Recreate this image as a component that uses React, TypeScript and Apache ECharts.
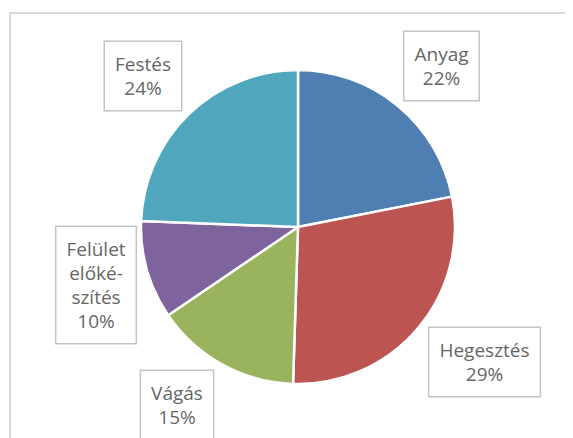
import React, { useEffect, useRef } from "react";
import * as echarts from "echarts";

const categories = ["Anyag", "Hegesztés", "Vágás", "Felület előkészítés", "Festés"];
const labelTexts = ["Anyag", "Hegesztés", "Vágás", "Felület\nelőké-\nszítés", "Festés"];
const values = [21.9, 28.6, 15.0, 10.1, 24.4];
const colors = ["#4F7EB3", "#BC5451", "#9AB45D", "#7E639C", "#50A6BD"];
const labelCenters: [number, number][] = [
  [433.5, 58],
  [476.5, 354],
  [169, 397],
  [88, 277],
  [135, 68],
];

export default function App() {
  const ref = useRef<HTMLDivElement>(null);
  useEffect(() => {
    if (!ref.current) return;
    const chart = echarts.init(ref.current, null, { renderer: "svg" });
    chart.setOption({
      animation: false,
      backgroundColor: "#ffffff",
      graphic: [
        {
          type: "rect",
          shape: { x: 2, y: 5, width: 700, height: 600 },
          style: { fill: "none", stroke: "#d9d9d9", lineWidth: 2 },
          silent: true,
        },
      ],
      series: [
        {
          type: "pie",
          center: [290, 219],
          radius: 157,
          startAngle: 90,
          clockwise: true,
          avoidLabelOverlap: false,
          data: categories.map((name, i) => ({
            name,
            value: values[i],
            itemStyle: { color: colors[i] },
          })),
          itemStyle: { borderColor: "#ffffff", borderWidth: 2.5 },
          label: {
            show: true,
            position: "outside",
            formatter: (p: any) => `${labelTexts[p.dataIndex]}\n${Math.round(p.percent)}%`,
            fontFamily: "Open Sans",
            fontSize: 19,
            lineHeight: 24,
            color: "#666666",
            align: "center",
            overflow: "none",
            borderColor: "#c4c4c4",
            borderWidth: 1.5,
            padding: [10, 10, 10, 10],
            backgroundColor: "#ffffff",
          },
          labelLine: { show: false },
          labelLayout: (params: any) => {
            const c = labelCenters[params.dataIndex];
            return { x: c[0], y: c[1], align: "center", verticalAlign: "middle", hideOverlap: false };
          },
          emphasis: { disabled: true },
        },
      ],
    });
    return () => chart.dispose();
  }, []);
  return <div ref={ref} style={{ width: 565, height: 430 }} />;
}
